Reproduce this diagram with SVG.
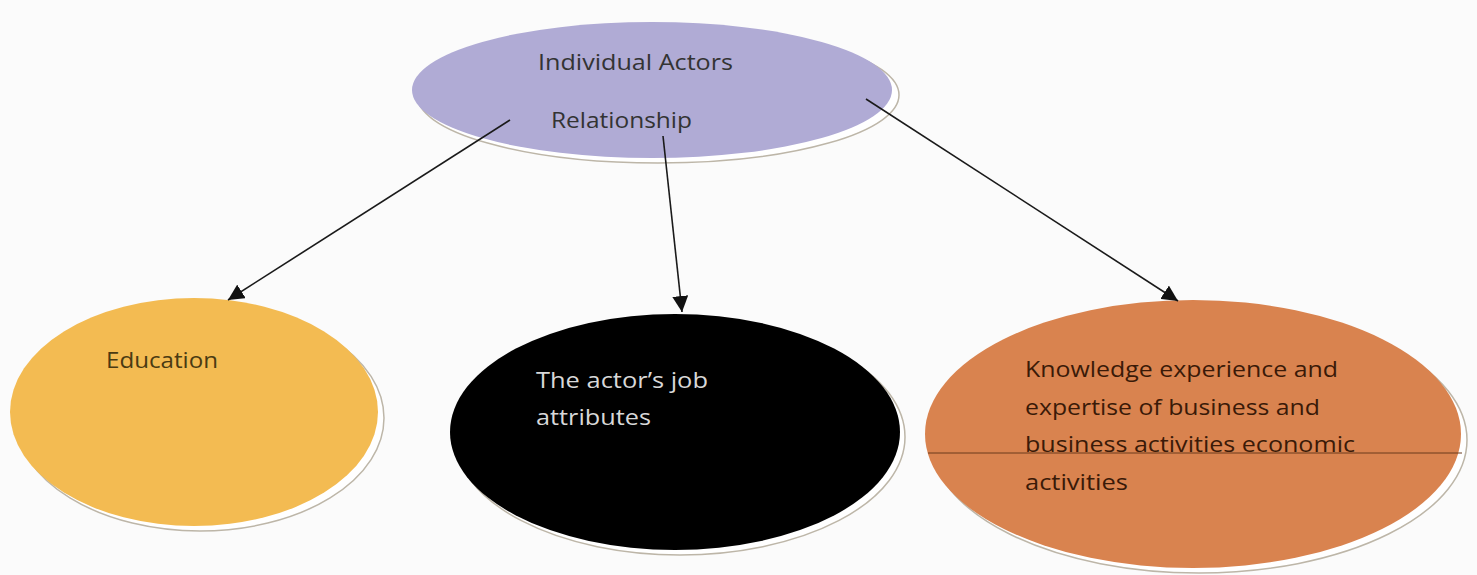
<svg xmlns="http://www.w3.org/2000/svg" width="1477" height="575" viewBox="0 0 1477 575">
<defs>
<marker id="arr" viewBox="0 0 10 10" refX="10" refY="5" markerWidth="16" markerHeight="16" markerUnits="userSpaceOnUse" orient="auto">
<path d="M0,0 L10,5 L0,10 z" fill="#111"/>
</marker>
</defs>
<style>
.rim{fill:#ffffff;stroke:#bdb6a8;stroke-width:1.5}
.lbl{font-family:"Open Sans","Liberation Sans",sans-serif;font-size:21px}
.con{stroke:#1a1a1a;stroke-width:1.6;fill:none}
</style>
<rect width="1477" height="575" fill="#fbfbfb"/>
<g id="node-top">
<ellipse class="rim" cx="658" cy="95" rx="241" ry="68" stroke="#b9b4cf"/>
<ellipse cx="652" cy="90" rx="240" ry="68" fill="#b0abd5"/>
<text class="lbl" x="538" y="70" fill="#333333" textLength="195" lengthAdjust="spacingAndGlyphs">Individual Actors</text>
<text class="lbl" x="551" y="128" fill="#333333" textLength="141" lengthAdjust="spacingAndGlyphs">Relationship</text>
</g>
<g id="node-education">
<ellipse class="rim" cx="200" cy="418" rx="184" ry="113" stroke="#c4a470"/>
<ellipse cx="194" cy="412" rx="184" ry="114" fill="#f3bb52"/>
<text class="lbl" x="106" y="368" fill="#4a3a12" textLength="112" lengthAdjust="spacingAndGlyphs">Education</text>
</g>
<g id="node-job">
<ellipse class="rim" cx="680" cy="437" rx="225" ry="118" stroke="#c8c8c8"/>
<ellipse cx="675" cy="432" rx="225" ry="118" fill="#000000"/>
<text class="lbl" x="536" y="388" fill="#d8d8d8" textLength="172" lengthAdjust="spacingAndGlyphs">The actor’s job</text>
<text class="lbl" x="536" y="425" fill="#d8d8d8" textLength="115" lengthAdjust="spacingAndGlyphs">attributes</text>
</g>
<g id="node-knowledge">
<ellipse class="rim" cx="1199" cy="440" rx="268" ry="133" stroke="#b58a6a"/>
<ellipse cx="1193" cy="434" rx="268" ry="134" fill="#d9834f"/>
<line x1="928" y1="453" x2="1462" y2="453" stroke="#6b3a1c" stroke-width="1"/>
<text class="lbl" x="1025" y="377" fill="#3a1a08" textLength="313" lengthAdjust="spacingAndGlyphs">Knowledge experience and</text>
<text class="lbl" x="1025" y="415" fill="#3a1a08" textLength="295" lengthAdjust="spacingAndGlyphs">expertise of business and</text>
<text class="lbl" x="1025" y="452" fill="#3a1a08" textLength="330" lengthAdjust="spacingAndGlyphs">business activities economic</text>
<text class="lbl" x="1025" y="490" fill="#3a1a08" textLength="103" lengthAdjust="spacingAndGlyphs">activities</text>
</g>
<g id="connectors">
<line class="con" x1="510" y1="120" x2="228" y2="300" marker-end="url(#arr)"/>
<line class="con" x1="663" y1="136" x2="682" y2="312" marker-end="url(#arr)"/>
<line class="con" x1="866" y1="99" x2="1178" y2="301" marker-end="url(#arr)"/>
</g>
</svg>
